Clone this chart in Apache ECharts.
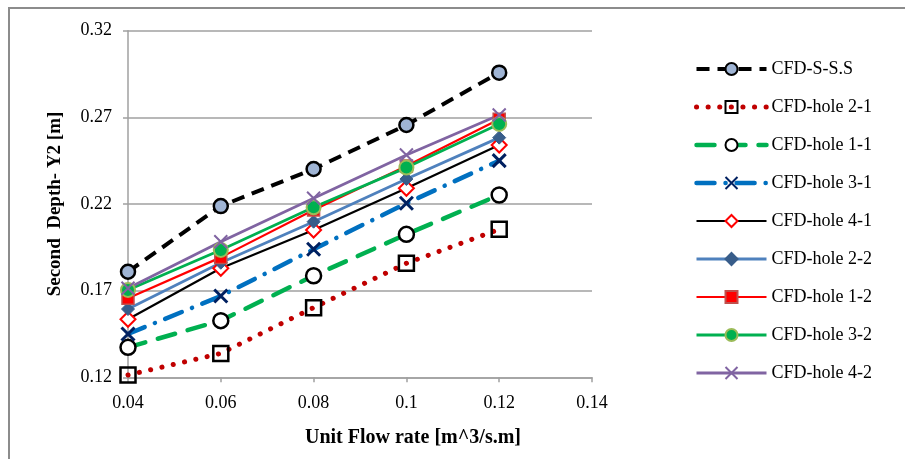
<!DOCTYPE html>
<html>
<head>
<meta charset="utf-8">
<script src="https://cdn.jsdelivr.net/npm/echarts@6/dist/echarts.min.js"></script>
<style>
html,body{margin:0;padding:0;background:#fff;}
#chart{width:905px;height:459px;}
</style>
</head>
<body>
<div id="chart"></div>
<script>
var flowRates = [0.04, 0.06, 0.08, 0.1, 0.12];
var xTicks = [0.04, 0.06, 0.08, 0.1, 0.12, 0.14];
var yTicks = [0.12, 0.17, 0.22, 0.27, 0.32];
var seriesNames = ['CFD-S-S.S','CFD-hole 2-1','CFD-hole 1-1','CFD-hole 3-1','CFD-hole 4-1','CFD-hole 2-2','CFD-hole 1-2','CFD-hole 3-2','CFD-hole 4-2'];
var sss    = [0.1809, 0.2188, 0.2402, 0.2656, 0.2958];
var hole21 = [0.1213, 0.1338, 0.1602, 0.1858, 0.2054];
var hole11 = [0.1373, 0.1527, 0.1786, 0.2025, 0.2252];
var hole31 = [0.1450, 0.1669, 0.1939, 0.2204, 0.2450];
var hole41 = [0.1535, 0.1829, 0.2050, 0.2291, 0.2540];
var hole22 = [0.1594, 0.1861, 0.2098, 0.2344, 0.2583];
var hole12 = [0.1656, 0.1892, 0.2165, 0.2419, 0.2689];
var hole32 = [0.1704, 0.1935, 0.2181, 0.2410, 0.2662];
var hole42 = [0.1714, 0.1982, 0.2233, 0.2483, 0.2714];
var xTitle = 'Unit Flow rate [m^3/s.m]';
var yTitle = 'Second  Depth- Y2 [m]';

function pairs(vals){ return flowRates.map(function(x,i){ return [x, vals[i]]; }); }
var X_PATH = 'path://M0,0 L10,10 M10,0 L0,10';
var FONT = '"Liberation Serif", "Times New Roman", serif';

function mk(name, vals, line, sym, size, item){
  return {
    name: name, type: 'line', data: pairs(vals),
    symbol: sym, symbolSize: size, showAllSymbol: true,
    lineStyle: line, itemStyle: item,
    emphasis: {disabled: true}, animation: false, clip: false
  };
}

var lines = [
  {color:'#000', width:4, type:[13,8], cap:'butt'},
  {color:'#c00000', width:5, type:[0.1,11.5], cap:'round'},
  {color:'#00b050', width:4.5, type:[18,13], cap:'round'},
  {color:'#0070c0', width:4.5, type:[18,11,0.1,11], cap:'round'},
  {color:'#000', width:2.2},
  {color:'#4f81bd', width:2.8},
  {color:'#ff0000', width:2.2},
  {color:'#00b050', width:2.8},
  {color:'#8064a2', width:2.8}
];

var series = [
  mk(seriesNames[0], sss, lines[0], 'circle', 14, {color:'#9fb4d4', borderColor:'#000', borderWidth:2.5}),
  mk(seriesNames[1], hole21, lines[1], 'rect', 15, {color:'rgba(0,0,0,0)', borderColor:'#000', borderWidth:2.5}),
  mk(seriesNames[2], hole11, lines[2], 'circle', 15, {color:'#fff', borderColor:'#000', borderWidth:2.5}),
  mk(seriesNames[3], hole31, lines[3], X_PATH, 13, {color:'rgba(0,0,0,0)', borderColor:'#002060', borderWidth:3}),
  mk(seriesNames[4], hole41, lines[4], 'diamond', 15, {color:'#fff', borderColor:'#ff0000', borderWidth:2}),
  mk(seriesNames[5], hole22, lines[5], 'diamond', 13, {color:'#385d8a', borderColor:'#385d8a', borderWidth:1}),
  mk(seriesNames[6], hole12, lines[6], 'rect', 12, {color:'#ff0000', borderColor:'#c0504d', borderWidth:1.5}),
  mk(seriesNames[7], hole32, lines[7], 'circle', 14, {color:'#00b050', borderColor:'#9bbb59', borderWidth:2}),
  mk(seriesNames[8], hole42, lines[8], X_PATH, 13, {color:'rgba(0,0,0,0)', borderColor:'#8064a2', borderWidth:2})
];

var legendData = seriesNames.map(function(n, i){
  return {name: n, lineStyle: {width: lines[i].width}};
});

var chart = echarts.init(document.getElementById('chart'), null, {renderer:'canvas'});
chart.setOption({
  animation: false,
  backgroundColor: '#fff',
  textStyle: {fontFamily: FONT},
  grid: {left: 128, right: 313, top: 30.7, bottom: 81.7, containLabel: false},
  xAxis: {
    type: 'value', min: xTicks[0], max: xTicks[xTicks.length-1], interval: 0.02,
    axisLine: {show: true, lineStyle: {color: '#a0a0a0', width: 1.5}},
    axisTick: {show: true, length: 5, lineStyle: {color: '#a0a0a0', width: 1.5}},
    splitLine: {show: false},
    axisLabel: {margin: 17, color: '#000', fontSize: 18, fontFamily: FONT,
      formatter: function(v){ return String(+v.toFixed(2)); }}
  },
  yAxis: {
    type: 'value', min: yTicks[0], max: yTicks[yTicks.length-1], interval: 0.05,
    name: yTitle, nameLocation: 'middle', nameGap: 63, nameRotate: 90,
    nameTextStyle: {color: '#000', fontSize: 19, fontWeight: 'bold', fontFamily: FONT},
    axisLine: {show: true, lineStyle: {color: '#a0a0a0', width: 1.5}},
    axisTick: {show: true, length: 5, lineStyle: {color: '#a0a0a0', width: 1.5}},
    splitLine: {show: true, lineStyle: {color: '#a0a0a0', width: 1.5}},
    axisLabel: {margin: 16, color: '#000', fontSize: 18, fontFamily: FONT,
      formatter: function(v){ return v.toFixed(2); }}
  },
  legend: {
    orient: 'vertical', left: 689, top: 55,
    itemWidth: 70, itemHeight: 15, itemGap: 20,
    textStyle: {color: '#000', fontSize: 18, fontFamily: FONT},
    data: legendData,
    selectedMode: false
  },
  graphic: [
    {type: 'rect', shape: {x: 9, y: 8, width: 920, height: 480}, style: {fill: 'none', stroke: '#8c8c8c', lineWidth: 2}, silent: true},
    {type: 'text', x: 413, y: 438, style: {text: xTitle, fill: '#000', font: 'bold 20px ' + FONT, textAlign: 'center', textVerticalAlign: 'middle'}, silent: true}
  ],
  series: series
});
</script>
</body>
</html>
